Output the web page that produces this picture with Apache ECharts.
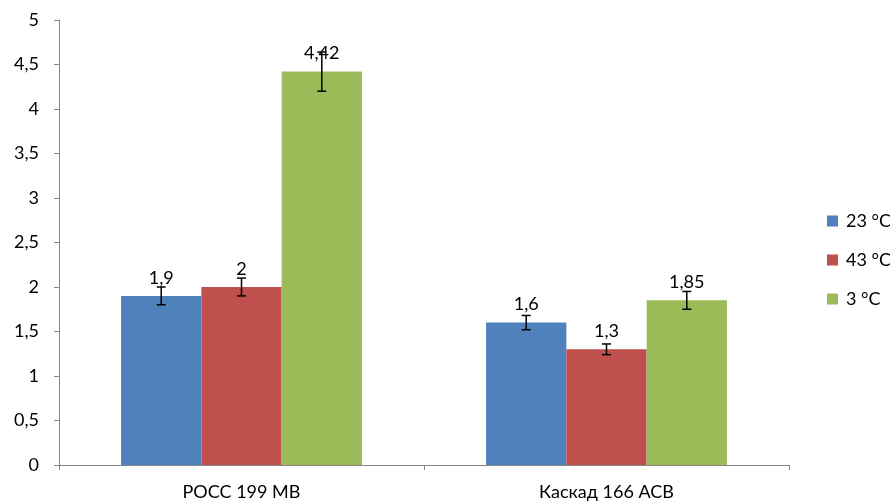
<!DOCTYPE html>
<html><head><meta charset="utf-8">
<script src="https://cdn.jsdelivr.net/npm/echarts@6/dist/echarts.min.js"></script>
<style>html,body{margin:0;padding:0;background:#fff}#c{width:890px;height:504px}</style>
</head><body><div id="c"></div>
<script>
var categories = ['РОСС 199 МВ', 'Каскад 166 АСВ'];
var seriesNames = ['23 °C', '43 °C', '3 °C'];
var values23 = [1.9, 1.6];
var values43 = [2, 1.3];
var values3 = [4.42, 1.85];
var err23 = [0.1, 0.08];
var err43 = [0.1, 0.06];
var err3 = [0.22, 0.1];
var colors = ['#4F81BD', '#C0504D', '#9BBB59'];

var allValues = [values23, values43, values3];
var allErr = [err23, err43, err3];
var FONT = 'Lato';
var FS = 18;
var GAP = 0.34;
function fmt(v){ return String(v).replace('.', ','); }

var series = [];
allValues.forEach(function(vals, i){
  series.push({
    name: seriesNames[i], type: 'bar', data: vals,
    barGap: '0%', barCategoryGap: (GAP*100)+'%',
    itemStyle: {color: colors[i]},
    label: {show: true, position: 'top', distance: 9, color: '#000',
      fontFamily: FONT, fontSize: FS, formatter: function(p){ return fmt(p.value); }}
  });
});
allValues.forEach(function(vals, i){
  var data = vals.map(function(v, k){ return [k, v - allErr[i][k], v + allErr[i][k]]; });
  series.push({
    type: 'custom', name: seriesNames[i] + ' err', z: 10, silent: true,
    data: data,
    renderItem: function(params, api){
      var k = api.value(0);
      var lo = api.coord([k, api.value(1)]);
      var hi = api.coord([k, api.value(2)]);
      var band = api.size([1, 0])[0];
      var bw = band * (1 - GAP) / 3;
      var x = lo[0] + (i - 1) * bw;
      var cap = 4.5;
      var st = {stroke: '#000', lineWidth: 1.5};
      return {type: 'group', children: [
        {type: 'line', shape: {x1: x, y1: lo[1], x2: x, y2: hi[1]}, style: st},
        {type: 'line', shape: {x1: x - cap, y1: lo[1], x2: x + cap, y2: lo[1]}, style: st},
        {type: 'line', shape: {x1: x - cap, y1: hi[1], x2: x + cap, y2: hi[1]}, style: st}
      ]};
    }
  });
});

var chart = echarts.init(document.getElementById('c'));
chart.setOption({
  animation: false,
  grid: {left: 59, right: 101, top: 20, bottom: 39},
  legend: {
    data: seriesNames, orient: 'vertical', left: 822, top: 207,
    itemWidth: 11, itemHeight: 11, itemGap: 21, icon: 'rect',
    textStyle: {fontFamily: FONT, fontSize: FS, color: '#000', padding: [0,0,0,3]}
  },
  xAxis: {
    type: 'category', data: categories,
    axisLine: {lineStyle: {color: '#868686', width: 1}},
    axisTick: {show: true, length: 5, lineStyle: {color: '#868686'}},
    axisLabel: {color: '#000', fontFamily: FONT, fontSize: FS, margin: 18}
  },
  yAxis: {
    type: 'value', min: 0, max: 5, interval: 0.5,
    splitLine: {show: false},
    axisLine: {show: true, lineStyle: {color: '#868686', width: 1}},
    axisTick: {show: true, length: 5, lineStyle: {color: '#868686'}},
    axisLabel: {color: '#000', fontFamily: FONT, fontSize: FS, margin: 20, formatter: fmt}
  },
  series: series
});
</script></body></html>
